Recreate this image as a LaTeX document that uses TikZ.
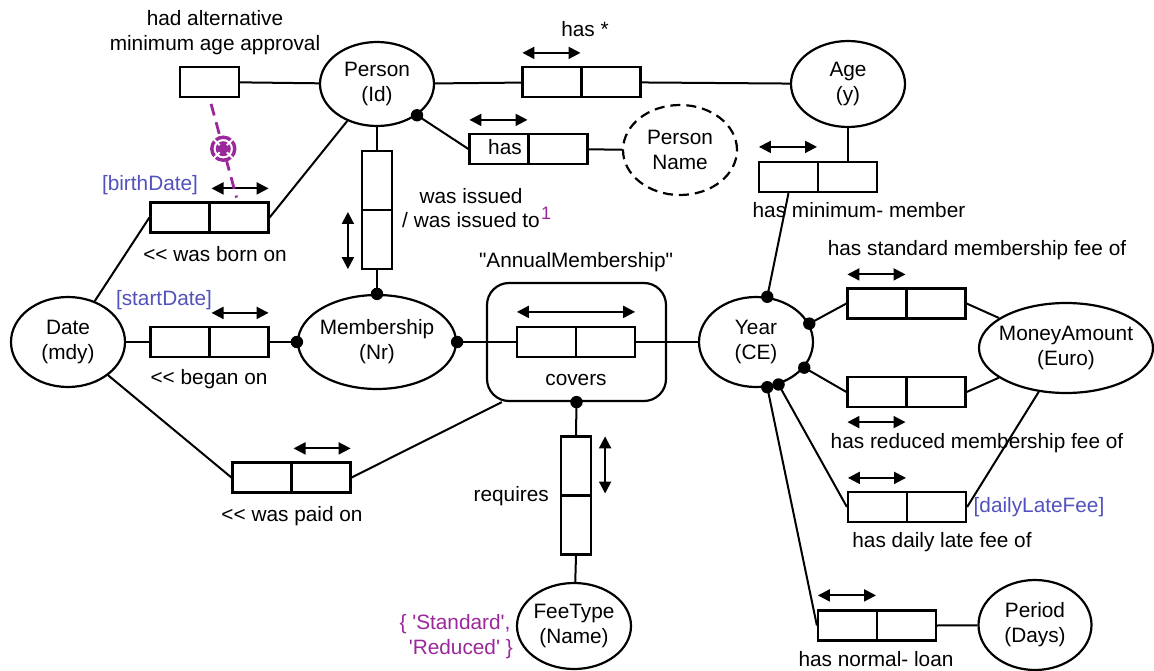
\documentclass[tikz,border=0pt]{standalone}
\usepackage{fontspec}
\newfontfamily\lsans{Liberation Sans}
\usetikzlibrary{shapes.geometric,arrows.meta,calc}
\definecolor{cpurple}{RGB}{155,40,155}
\definecolor{cblue}{RGB}{82,82,188}

\begin{document}
\begin{tikzpicture}[x=1pt,y=-1pt,
  every node/.style={font=\lsans\fontsize{20.8}{25}\selectfont, inner sep=0pt},
  lbl/.style={text height=15pt, text depth=4pt},
  entity/.style={draw, ellipse, line width=2.2pt, align=center,
    inner xsep=-45pt, inner ysep=-25pt, minimum width=114pt, minimum height=90pt},
  hbox/.style={draw, rectangle, line width=2.2pt, minimum width=118pt, minimum height=30pt,
    path picture={\draw[line width=2.2pt] (path picture bounding box.north) -- (path picture bounding box.south);}},
  vbox/.style={draw, rectangle, line width=2.2pt, minimum width=30pt, minimum height=118pt,
    path picture={\draw[line width=2.2pt] (path picture bounding box.west) -- (path picture bounding box.east);}},
  ubox/.style={draw, rectangle, line width=2.2pt, minimum width=59pt, minimum height=30pt},
  conn/.style={line width=2pt},
  uarrow/.style={{Triangle[length=12pt,width=12pt]}-{Triangle[length=12pt,width=12pt]}, line width=2pt},
]
\useasboundingbox (0,0) rectangle (1154,671);

% object types
\node[entity, minimum height=84pt] (Person) at (377,84) {Person\\(Id)};
\node[entity, minimum height=86pt] (Age) at (848,84) {Age\\(y)};
\node[entity, dash pattern=on 10pt off 6pt] (PName) at (680,150) {Person\\Name};
\node[entity] (Date) at (68,342) {Date\\(mdy)};
\node[entity, minimum width=158pt, minimum height=94pt] (Memb) at (377,342) {Membership\\(Nr)};
\node[entity] (Year) at (756,342) {Year\\(CE)};
\node[entity, minimum width=174pt] (Money) at (1066,348) {MoneyAmount\\(Euro)};
\node[entity, minimum height=86pt] (Fee) at (574,626) {FeeType\\(Name)};
\node[entity, minimum width=113pt] (Period) at (1035,625) {Period\\(Days)};

% objectified fact type
\node[draw, rounded corners=22pt, line width=2.2pt, minimum width=179pt, minimum height=118pt] (AM) at (576.5,342) {};

% fact type role boxes
\node[ubox] (alt) at (209.5,82) {};
\node[hbox] (hasStar) at (581.5,82) {};
\node[hbox] (hasPN) at (528.5,149) {};
\node[hbox] (birth) at (209.5,217.5) {};
\node[vbox] (issued) at (377,210) {};
\node[hbox] (began) at (209.5,342) {};
\node[hbox] (paid) at (291.5,477.5) {};
\node[hbox] (cov) at (576,342) {};
\node[vbox] (req) at (576,495.5) {};
\node[hbox] (minmem) at (818,177) {};
\node[hbox] (stdfee) at (906.5,303.5) {};
\node[hbox] (redfee) at (906.5,392) {};
\node[hbox] (late) at (907,507) {};
\node[hbox] (loan) at (877,625.5) {};

% mandatory role dots
\coordinate (pdot) at (Person.-38);
\coordinate (mT) at (Memb.north);
\coordinate (mL) at (Memb.west);
\coordinate (mR) at (Memb.east);
\coordinate (amB) at (AM.south);
\coordinate (yT) at (Year.76);
\coordinate (yUR) at (Year.19);
\coordinate (yLR) at (Year.-28);
\coordinate (yB) at (Year.-76);
\coordinate (yB2) at (Year.-62);

% connectors
\draw[conn] (alt) -- (Person);
\draw[conn] (Person) -- (hasStar);
\draw[conn] (hasStar) -- (Age);
\draw[conn] (pdot) -- (hasPN.west);
\draw[conn] (hasPN) -- (PName);
\draw[conn] (Person) -- (issued);
\draw[conn] (issued.south) -- (mT);
\draw[conn] (birth.east) -- (Person);
\draw[conn] (birth.west) -- (Date);
\draw[conn] (Date) -- (began);
\draw[conn] (began.east) -- (mL);
\draw[conn] (Date) -- (paid.west);
\draw[conn] (paid.east) -- ([xshift=16pt]AM.south west);
\draw[conn] (mR) -- (cov.west);
\draw[conn] (cov.east) -- (Year);
\draw[conn] (amB) -- (req.north);
\draw[conn] (req.south) -- (Fee);
\draw[conn] (Age) -- (Age.south |- minmem.north);
\draw[conn] ([xshift=-29.5pt]minmem.south) -- (yT);
\draw[conn] (yUR) -- (stdfee.west);
\draw[conn] (stdfee.east) -- (Money);
\draw[conn] (yLR) -- (redfee.west);
\draw[conn] (redfee.east) -- (Money);
\draw[conn] (yB2) -- (late.west);
\draw[conn] (late.east) -- (Money);
\draw[conn] (yB) -- (loan.west);
\draw[conn] (loan.east) -- (Period);

\foreach \p in {pdot,mT,mL,mR,amB,yT,yUR,yLR,yB,yB2}
  \fill (\p) circle (6.2pt);

% uniqueness constraints
\draw[uarrow] ([xshift=2pt,yshift=13pt]birth.north) -- ([xshift=-1pt,yshift=13pt]birth.north east);
\draw[uarrow] ([xshift=2pt,yshift=13pt]began.north) -- ([xshift=-1pt,yshift=13pt]began.north east);
\draw[uarrow] ([xshift=2pt,yshift=13pt]paid.north) -- ([xshift=-1pt,yshift=13pt]paid.north east);
\draw[uarrow] ([xshift=1pt,yshift=13pt]hasStar.north west) -- ([xshift=-1pt,yshift=13pt]hasStar.north);
\draw[uarrow] ([xshift=1pt,yshift=13pt]hasPN.north west) -- ([xshift=-1pt,yshift=13pt]hasPN.north);
\draw[uarrow] ([xshift=-13pt,yshift=-2pt]issued.west) -- ([xshift=-13pt,yshift=1pt]issued.south west);
\draw[uarrow] ([xshift=1pt,yshift=14pt]cov.north west) -- ([xshift=-1pt,yshift=14pt]cov.north east);
\draw[uarrow] ([xshift=13pt,yshift=-1pt]req.north east) -- ([xshift=13pt,yshift=2pt]req.east);
\draw[uarrow] ([xshift=1pt,yshift=14pt]minmem.north west) -- ([xshift=-1pt,yshift=14pt]minmem.north);
\draw[uarrow] ([xshift=1pt,yshift=13pt]stdfee.north west) -- ([xshift=-1pt,yshift=13pt]stdfee.north);
\draw[uarrow] ([xshift=1pt,yshift=-14pt]redfee.south west) -- ([xshift=-1pt,yshift=-14pt]redfee.south);
\draw[uarrow] ([xshift=1pt,yshift=13pt]late.north west) -- ([xshift=-1pt,yshift=13pt]late.north);
\draw[uarrow] ([xshift=1pt,yshift=14pt]loan.north west) -- ([xshift=-1pt,yshift=14pt]loan.north);

% exclusive-or constraint between the alternative approval and the birth date
\draw[cpurple, line width=2.8pt, dash pattern=on 12pt off 7pt, shorten <=6pt, shorten >=4pt]
  (alt.south) -- coordinate[pos=0.49] (xc) ([xshift=-32pt]birth.north east);
\fill[white] (xc) circle (13pt);
\draw[cpurple, line width=3.4pt] (xc) circle (11.5pt);
\fill[cpurple] (xc) circle (7.5pt);
\foreach \a in {45,135,225,315}
  \draw[white, line width=2pt] (xc) ++(\a:5pt) -- ++(\a:11pt);

% fact type readings and role names
\node[align=center] (altlbl) at (215,33) {had alternative\\minimum age approval};
\node[lbl] (hasStarlbl) at (585,31) {has *};
\node[lbl] (hasPNlbl) at (505,149) {has};
\node[lbl] (iss1) at (471,198) {was issued};
\node[lbl] (iss2) at (471,222) {/ was issued to};
\node[text=cpurple, font=\lsans\fontsize{18}{20}\selectfont] (note1) at (546,213) {1};
\node[lbl, text=cblue] (bdname) at (150,185) {[birthDate]};
\node[lbl] (bdlbl) at (215,256) {<{}< was born on};
\node[lbl, text=cblue] (sdname) at (164,300) {[startDate]};
\node[lbl] (sdlbl) at (209,379) {<{}< began on};
\node[lbl] (pdlbl) at (292,516) {<{}< was paid on};
\node[lbl] (amlbl) at (576,262) {"AnnualMembership"};
\node[lbl] (covlbl) at (576,380) {covers};
\node[lbl, anchor=east] (reqlbl) at (549,496) {requires};
\node[align=center, text=cpurple] (feevals) at (455,637) {\{ 'Standard',\\ \ \ 'Reduced' \}};
\node[lbl] (mmlbl) at (859,212) {has minimum- member};
\node[lbl] (stdlbl) at (977,250) {has standard membership fee of};
\node[lbl] (redlbl) at (977,443) {has reduced membership fee of};
\node[lbl] (latelbl) at (942,542) {has daily late fee of};
\node[lbl, text=cblue] (lfname) at (1039,507) {[dailyLateFee]};
\node[lbl] (loanlbl) at (876,661) {has normal- loan};
\end{tikzpicture}
\end{document}
